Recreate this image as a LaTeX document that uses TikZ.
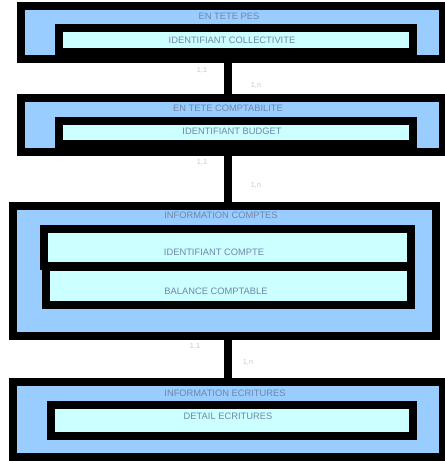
\documentclass[tikz,border=0pt]{standalone}
\usepackage{fontspec}
\setmainfont{Liberation Sans}
\usetikzlibrary{fit}
\definecolor{boxblue}{HTML}{99CCFF}
\definecolor{boxcyan}{HTML}{CCFFFF}
\definecolor{txtblue}{RGB}{110,135,170}
\definecolor{lbltxt}{RGB}{200,200,200}
\tikzset{
  outerbox/.style={draw=black, fill=boxblue, line width=6pt, inner sep=0pt},
  innerbox/.style={draw=black, fill=boxcyan, line width=6pt, inner sep=0pt},
  boxtext/.style={text=txtblue, font=\fontsize{7}{8}\selectfont, inner sep=0pt},
  cardlbl/.style={text=lbltxt, font=\fontsize{5.5}{6}\selectfont, inner sep=0pt},
  conn/.style={draw=black, line width=6pt}
}
\begin{document}
\begin{tikzpicture}[x=0.75pt,y=-0.75pt]
\useasboundingbox (0,0) rectangle (445,461);
\clip (0,0) rectangle (445,461);
\coordinate (axis) at (228,0);
% box 1
\node[outerbox, fit={(21,6) (443,59)}] (b1) {};
\node[innerbox, fit={(59,28) (413,52)}] (b1i) {};
\node[boxtext] (t1) at (229,16) {EN TETE PES};
\node[boxtext] (t1i) at (232,40) {IDENTIFIANT COLLECTIVITE};
% box 2
\node[outerbox, fit={(21,98) (443,152)}] (b2) {};
\node[innerbox, fit={(59,120.5) (413,144)}] (b2i) {};
\node[boxtext] (t2) at (228,108) {EN TETE COMPTABILITE};
\node[boxtext] (t2i) at (232,131) {IDENTIFIANT BUDGET};
% box 3
\node[outerbox, fit={(13,205.5) (436,336)}] (b3) {};
\node[innerbox, fit={(44,228.5) (411,266)}] (b3i) {};
\node[innerbox, fit={(45.5,267) (411,305)}] (b3j) {};
\node[boxtext] (t3) at (221,215) {INFORMATION COMPTES};
\node[boxtext] (t3i) at (214,252) {IDENTIFIANT COMPTE};
\node[boxtext] (t3j) at (216,291) {BALANCE COMPTABLE};
% box 4
\node[outerbox, fit={(13,382) (443,456.5)}] (b4) {};
\node[innerbox, fit={(51,405) (413,436)}] (b4i) {};
\node[boxtext] (t4) at (225,393) {INFORMATION ECRITURES};
\node[boxtext] (t4i) at (228,416) {DETAIL ECRITURES};
% connectors
\draw[conn] (b1.south -| axis) -- (b2.north -| axis);
\draw[conn] (b2.south -| axis) -- (b3.north -| axis);
\draw[conn] (b3.south -| axis) -- (b4.north -| axis);
% cardinalities
\node[cardlbl] (c1a) at (202,70) {1,1};
\node[cardlbl] (c1b) at (256,85) {1,n};
\node[cardlbl] (c2a) at (202,162) {1,1};
\node[cardlbl] (c2b) at (256,185) {1,n};
\node[cardlbl] (c3a) at (195,346) {1,1};
\node[cardlbl] (c3b) at (248,362) {1,n};
\end{tikzpicture}
\end{document}
